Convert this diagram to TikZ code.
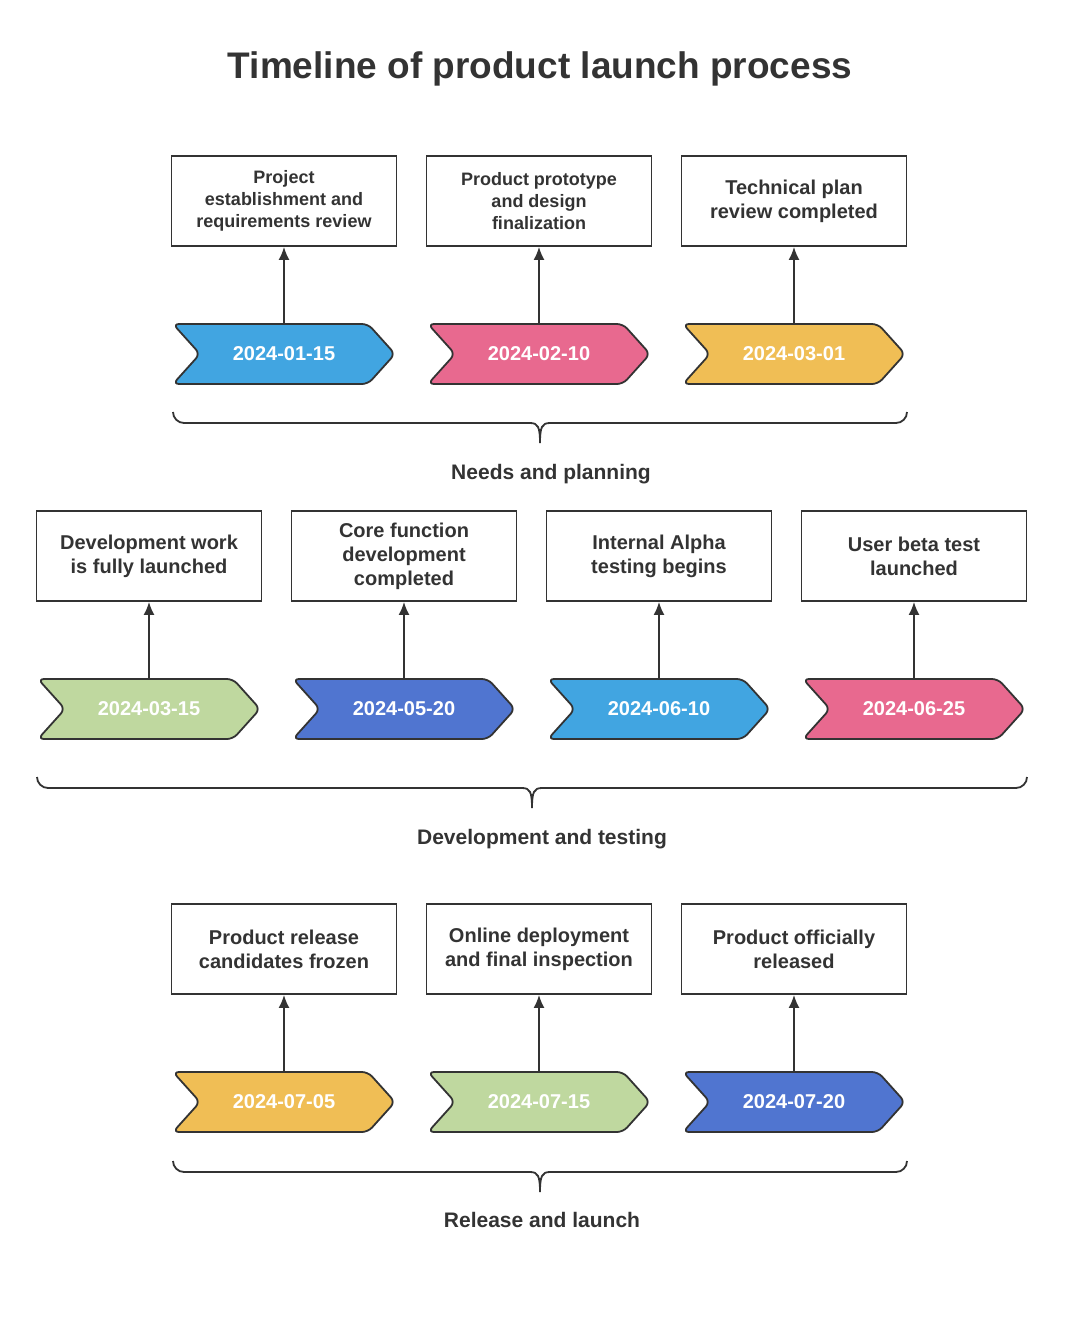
\documentclass[tikz,border=0pt]{standalone}
\usepackage{fontspec}
\usetikzlibrary{arrows.meta}
\setmainfont{Liberation Sans}
\definecolor{cblue}{HTML}{41A5E1}
\definecolor{cpink}{HTML}{E8698F}
\definecolor{cyel}{HTML}{F0BE55}
\definecolor{cgreen}{HTML}{BFD89F}
\definecolor{cdblue}{HTML}{5075D0}
\definecolor{ink}{HTML}{333333}
\begin{document}
\begin{tikzpicture}[x=1pt,y=-1pt,
  box/.style={draw=ink,line width=1.8pt,minimum width=225pt,minimum height=90pt,align=center,font=\bfseries\fontsize{20}{24}\selectfont,text=ink,inner sep=2pt},
  sbox/.style={box,font=\bfseries\fontsize{18}{22}\selectfont},
  date/.style={minimum width=222pt,minimum height=60pt,text=white,font=\bfseries\fontsize{20}{24}\selectfont,inner sep=0pt},
  chev/.style={draw=ink,line width=1.8pt,rounded corners=6pt},
  conn/.style={draw=ink,line width=1.8pt,-{Latex[length=13pt,width=11pt]}},
  brace/.style={draw=ink,line width=1.8pt},
  lab/.style={font=\bfseries\fontsize{21}{25}\selectfont,text=ink}]
\useasboundingbox (0,0) rectangle (1065,1318);
\newcommand{\chevr}[5]{%
  \fill[#4,chev] (#2-111,#3-30) -- (#2+84,#3-30) -- (#2+111,#3) -- (#2+84,#3+30) -- (#2-111,#3+30) -- (#2-84,#3) -- cycle;
  \node[date] (#1) at (#2,#3) {#5};}
\newcommand{\brc}[4]{% x1 x2 y mid
  \draw[brace] (#1,#3-12) arc[start angle=180,end angle=90,radius=11] -- (#4-10,#3-1)
    .. controls (#4-2,#3-1) and (#4,#3+3) .. (#4,#3+19)
    .. controls (#4,#3+3) and (#4+2,#3-1) .. (#4+10,#3-1) -- (#2-11,#3-1) arc[start angle=90,end angle=0,radius=11];}
\node[font=\bfseries\fontsize{37}{42}\selectfont,text=ink] (title) at (540,69) {Timeline of product launch process};
% row 1
\node[sbox] (b1) at (284,201) {Project\\establishment and\\requirements review};
\node[sbox] (b2) at (539,201) {Product prototype\\and design\\finalization};
\node[box] (b3) at (794,201) {Technical plan\\review completed};
\chevr{d1}{284}{354}{cblue}{2024-01-15}
\chevr{d2}{539}{354}{cpink}{2024-02-10}
\chevr{d3}{794}{354}{cyel}{2024-03-01}
\foreach \i in {1,2,3} \draw[conn] (d\i.north) -- (b\i.south);
\brc{173}{907}{424}{540}
\node[lab] (l1) at (551,474) {Needs and planning};
% row 2
\node[box] (b4) at (149,556) {Development work\\is fully launched};
\node[box] (b5) at (404,556) {Core function\\development\\completed};
\node[box] (b6) at (659,556) {Internal Alpha\\testing begins};
\node[box] (b7) at (914,556) {User beta test\\launched};
\chevr{d4}{149}{709}{cgreen}{2024-03-15}
\chevr{d5}{404}{709}{cdblue}{2024-05-20}
\chevr{d6}{659}{709}{cblue}{2024-06-10}
\chevr{d7}{914}{709}{cpink}{2024-06-25}
\foreach \i in {4,5,6,7} \draw[conn] (d\i.north) -- (b\i.south);
\brc{37}{1027}{789}{532}
\node[lab] (l2) at (542,839) {Development and testing};
% row 3
\node[box] (b8) at (284,949) {Product release\\candidates frozen};
\node[box] (b9) at (539,949) {Online deployment\\and final inspection};
\node[box] (b10) at (794,949) {Product officially\\released};
\chevr{d8}{284}{1102}{cyel}{2024-07-05}
\chevr{d9}{539}{1102}{cgreen}{2024-07-15}
\chevr{d10}{794}{1102}{cdblue}{2024-07-20}
\foreach \i in {8,9,10} \draw[conn] (d\i.north) -- (b\i.south);
\brc{173}{907}{1173}{540}
\node[lab] (l3) at (542,1220) {Release and launch};
\end{tikzpicture}
\end{document}
